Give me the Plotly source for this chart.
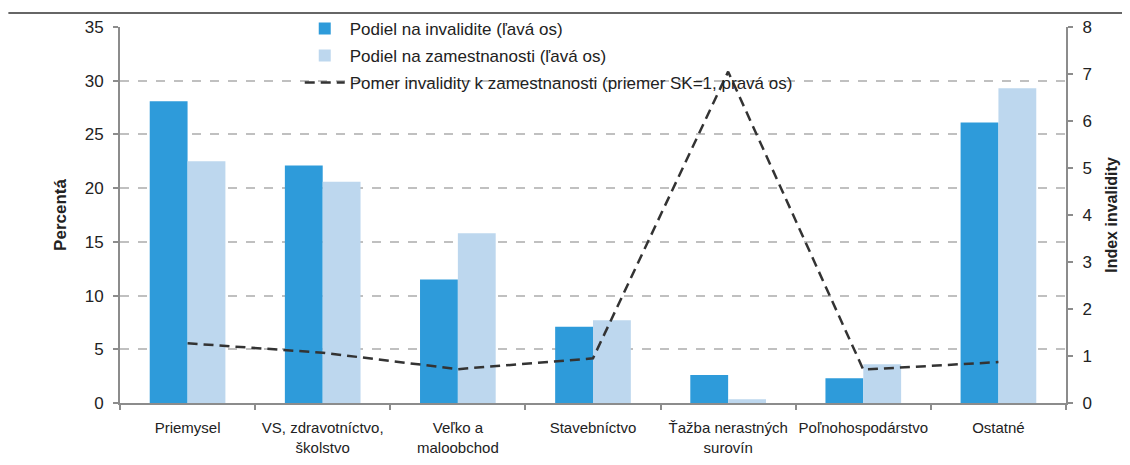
import plotly.graph_objects as go

categories = ["Priemysel", "VS, zdravotníctvo,<br>školstvo", "Veľko a<br>maloobchod",
              "Stavebníctvo", "Ťažba nerastných<br>surovín", "Poľnohospodárstvo", "Ostatné"]
share_invalidity = [28.1, 22.1, 11.5, 7.1, 2.6, 2.3, 26.1]
share_employment = [22.5, 20.6, 15.8, 7.7, 0.35, 3.6, 29.3]
invalidity_index = [1.27, 1.07, 0.72, 0.95, 7.05, 0.71, 0.87]

left_ticks = [0, 5, 10, 15, 20, 25, 30, 35]
right_ticks = [0, 1, 2, 3, 4, 5, 6, 7, 8]

FONT = "Liberation Sans, Arial, sans-serif"
AXIS_COL = "#8c8c8c"

W, H = 1122, 457
ML, MR, MT, MB = 112, 64, 19, 62
PW = W - ML - MR
PH = H - MT - MB

fig = go.Figure()
fig.add_trace(go.Bar(x=categories, y=share_invalidity, name="Podiel na invalidite (ľavá os)",
                     legendgroup="a", marker=dict(color="#2E9BDA", line=dict(width=0))))
fig.add_trace(go.Bar(x=categories, y=share_employment, name="Podiel na zamestnanosti (ľavá os)",
                     legendgroup="b", marker=dict(color="#BDD7EE", line=dict(width=0))))
fig.add_trace(go.Scatter(x=categories, y=invalidity_index, yaxis="y2", mode="lines",
                         legendgroup="c",
                         name="Pomer invalidity k zamestnanosti (priemer SK=1, pravá os)",
                         line=dict(color="#333333", width=2.5, dash="10px,6px")))

fig.update_layout(
    width=W, height=H,
    margin=dict(l=ML, r=MR, t=MT, b=MB, autoexpand=False),
    paper_bgcolor="white", plot_bgcolor="white",
    font=dict(family=FONT, size=15, color="#222222"),
    barmode="group", bargap=0.44, bargroupgap=0,
    showlegend=True,
    legend=dict(x=0.19, y=1.043, xanchor="left", yanchor="top",
                bgcolor="rgba(0,0,0,0)", font=dict(size=17, color="#222222"),
                tracegroupgap=2, itemwidth=40),
    xaxis=dict(showline=True, linecolor=AXIS_COL, linewidth=2, tickangle=0,
               ticks="outside", tickson="boundaries", ticklen=5, tickcolor=AXIS_COL, tickwidth=2,
               ticklabelstandoff=10,
               tickfont=dict(size=15, color="#222222"), showgrid=False, automargin=False),
    yaxis=dict(range=[0, 35], tickvals=left_ticks, showline=True, linecolor=AXIS_COL, linewidth=2,
               ticks="outside", ticklen=5, tickcolor=AXIS_COL, tickwidth=2, ticklabelstandoff=6,
               showgrid=True, gridcolor="#c0c0c0", griddash="dash", gridwidth=1.5,
               tickfont=dict(size=17, color="#222222"),
               title=dict(text="<b>Percentá</b>", font=dict(size=17), standoff=14),
               zeroline=False, automargin=False),
    yaxis2=dict(range=[0, 8], tickvals=right_ticks, overlaying="y", side="right",
                showline=True, linecolor=AXIS_COL, linewidth=2,
                ticks="outside", ticklen=5, tickcolor=AXIS_COL, tickwidth=2, ticklabelstandoff=6,
                showgrid=False, zeroline=False, automargin=False,
                tickfont=dict(size=17, color="#222222"),
                title=dict(text="<b>Index invalidity</b>", font=dict(size=16), standoff=15)),
)

# thin dark rule along the top edge of the page (under the cut-off title)
fig.add_shape(type="line", xref="paper", yref="paper",
              x0=-0.118, x1=1.08,
              y0=1 + 14 / PH, y1=1 + 14 / PH,
              line=dict(color="#333333", width=1.5))

fig.write_html("out.html")
